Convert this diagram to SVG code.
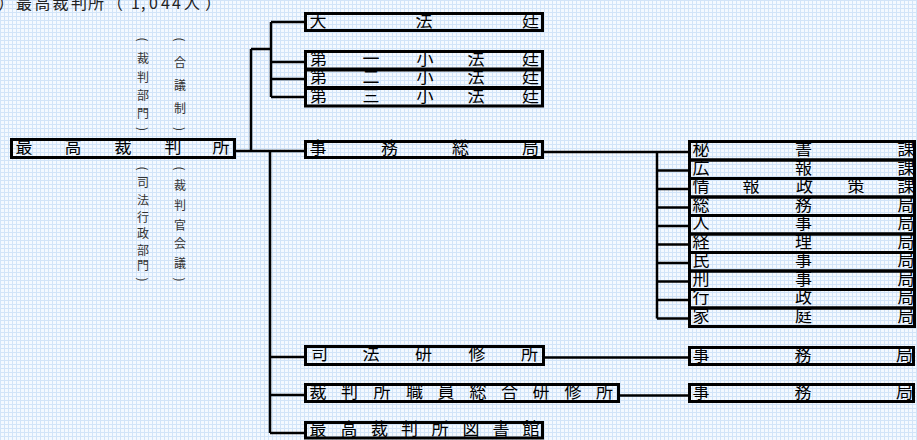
<svg xmlns="http://www.w3.org/2000/svg" width="917" height="440" viewBox="0 0 917 440">
<defs>
<pattern id="grid" width="4" height="4" patternUnits="userSpaceOnUse">
<rect width="4" height="4" fill="#f4f9ff"/>
<path d="M0 0.5H4M0.5 0V4" stroke="#d2e4f8" stroke-width="1"/>
</pattern>
</defs>
<style>
.box{fill:none;stroke:#000;stroke-width:3}
.con path{fill:none;stroke:#000;stroke-width:2.5}
.t{font-family:"Noto Sans CJK JP","Noto Sans CJK SC",sans-serif;font-size:17px;fill:#000}
.a{font-family:"Noto Sans CJK JP","Noto Sans CJK SC",sans-serif;font-size:12px;fill:#333;text-anchor:middle}
.p{font-family:"Noto Sans CJK JP","Noto Sans CJK SC",sans-serif;font-size:12px;fill:#333;text-anchor:middle;dominant-baseline:central}
.ti{font-family:"Noto Sans CJK JP","Noto Sans CJK SC",sans-serif;font-size:16px;fill:#222}
</style>
<rect width="917" height="440" fill="url(#grid)"/>

<text class="ti" x="-2 16 34.5 52.5 71 88 107 131 141 149 161 172 184 205" y="9">）最高裁判所（1,044人）</text>

<g class="con">
<path d="M271 22V97M271 22H304M271 62H304M271 79H304M271 97H304"/>
<path d="M251 49H271M251 49V151M236 151H304"/>
<path d="M270 151V433M270 357H304M270 395H304M270 433H304"/>
<path d="M545 357.5H688M620 395.5H688"/>
<path d="M544 152H688M657 152V318.5M657 170.5H688M657 189H688M657 207.5H688M657 226H688M657 244.5H688M657 263H688M657 281.5H688M657 300H688M657 318.5H688"/>
</g>

<g id="saikosaibansho">
<rect class="box" x="11.5" y="139.5" width="223" height="18"/>
<text class="t" x="15.5 64.5 114.5 164.5 212.5" y="153">最高裁判所</text>
</g>

<g id="notes">
<text class="p" transform="translate(143.5,39.5) rotate(90)">(</text>
<text class="a" x="143" y="63">裁</text>
<text class="a" x="143" y="82">判</text>
<text class="a" x="143" y="100">部</text>
<text class="a" x="143" y="118">門</text>
<text class="p" transform="translate(143.5,129) rotate(90)">)</text>
<text class="p" transform="translate(180.5,39.5) rotate(90)">(</text>
<text class="a" x="180" y="67">合</text>
<text class="a" x="180" y="90">議</text>
<text class="a" x="180" y="113">制</text>
<text class="p" transform="translate(180.5,129) rotate(90)">)</text>
<text class="p" transform="translate(143.5,168.5) rotate(90)">(</text>
<text class="a" x="143" y="187">司</text>
<text class="a" x="143" y="205">法</text>
<text class="a" x="143" y="222">行</text>
<text class="a" x="143" y="238">政</text>
<text class="a" x="143" y="255">部</text>
<text class="a" x="143" y="270">門</text>
<text class="p" transform="translate(143.5,279.5) rotate(90)">)</text>
<text class="p" transform="translate(180.5,168.5) rotate(90)">(</text>
<text class="a" x="180" y="190">裁</text>
<text class="a" x="180" y="210">判</text>
<text class="a" x="180" y="230">官</text>
<text class="a" x="180" y="248">会</text>
<text class="a" x="180" y="268">議</text>
<text class="p" transform="translate(180.5,279.5) rotate(90)">)</text>
</g>

<g id="daihotei">
<rect class="box" x="305.5" y="13.5" width="237" height="17"/>
<text class="t" x="309.5 415.5 522" y="26.5">大法廷</text>
</g>
<g id="shohotei1">
<rect class="box" x="305.5" y="51.5" width="237" height="17.5"/>
<text class="t" x="310 362.5 416.5 467.5 522" y="64.5">第一小法廷</text>
</g>
<g id="shohotei2">
<rect class="box" x="305.5" y="70" width="237" height="17.5"/>
<text class="t" x="310 362.5 416.5 467.5 522" y="83">第二小法廷</text>
</g>
<g id="shohotei3">
<rect class="box" x="305.5" y="88.5" width="237" height="17.5"/>
<text class="t" x="310 362.5 416.5 467.5 522" y="101.5">第三小法廷</text>
</g>
<g id="jimusokyoku">
<rect class="box" x="305.5" y="141.5" width="237" height="16"/>
<text class="t" x="309.5 381 452 522" y="154">事務総局</text>
</g>

<g id="hisho"><rect class="box" x="689.5" y="141.5" width="225" height="18.5"/><text class="t" x="692.5 795 897.5" y="155">秘書課</text></g>
<g id="koho"><rect class="box" x="689.5" y="160" width="225" height="18.5"/><text class="t" x="692.5 795 897.5" y="173.5">広報課</text></g>
<g id="johoseisaku"><rect class="box" x="689.5" y="178.5" width="225" height="18.5"/><text class="t" x="692.5 742.5 796 847.5 897.5" y="192">情報政策課</text></g>
<g id="somu"><rect class="box" x="689.5" y="197" width="225" height="18.5"/><text class="t" x="692.5 795 897.5" y="210.5">総務局</text></g>
<g id="jinji"><rect class="box" x="689.5" y="215.5" width="225" height="18.5"/><text class="t" x="692.5 795 897.5" y="229">人事局</text></g>
<g id="keiri"><rect class="box" x="689.5" y="234" width="225" height="18.5"/><text class="t" x="692.5 795 897.5" y="247.5">経理局</text></g>
<g id="minji"><rect class="box" x="689.5" y="252.5" width="225" height="18.5"/><text class="t" x="692.5 795 897.5" y="266">民事局</text></g>
<g id="keiji"><rect class="box" x="689.5" y="271" width="225" height="18.5"/><text class="t" x="692.5 795 897.5" y="284.5">刑事局</text></g>
<g id="gyosei"><rect class="box" x="689.5" y="289.5" width="225" height="18.5"/><text class="t" x="692.5 795 897.5" y="303">行政局</text></g>
<g id="katei"><rect class="box" x="689.5" y="308" width="225" height="18.5"/><text class="t" x="692.5 795 897.5" y="321.5">家庭局</text></g>

<g id="shihokenshujo">
<rect class="box" x="305.5" y="346.5" width="238" height="18"/>
<text class="t" x="311 362.5 415 468.5 521" y="360">司法研修所</text>
</g>
<g id="shokuinkenshujo">
<rect class="box" x="305.5" y="384.5" width="313" height="17"/>
<text class="t" x="309.5 341 373.5 406 437.5 469.5 501 532.5 564.5 596" y="397.5">裁判所職員総合研修所</text>
</g>
<g id="toshokan">
<rect class="box" x="305.5" y="422.5" width="237" height="15.5"/>
<text class="t" x="309.5 340.5 371 401 431.5 462.5 492.5 522.5" y="434.5">最高裁判所図書館</text>
</g>
<g id="jimukyoku1">
<rect class="box" x="689.5" y="347.5" width="224" height="17"/>
<text class="t" x="692.5 794.5 896" y="360.5">事務局</text>
</g>
<g id="jimukyoku2">
<rect class="box" x="689.5" y="384.5" width="224" height="17"/>
<text class="t" x="692.5 794.5 896" y="397.5">事務局</text>
</g>
</svg>
